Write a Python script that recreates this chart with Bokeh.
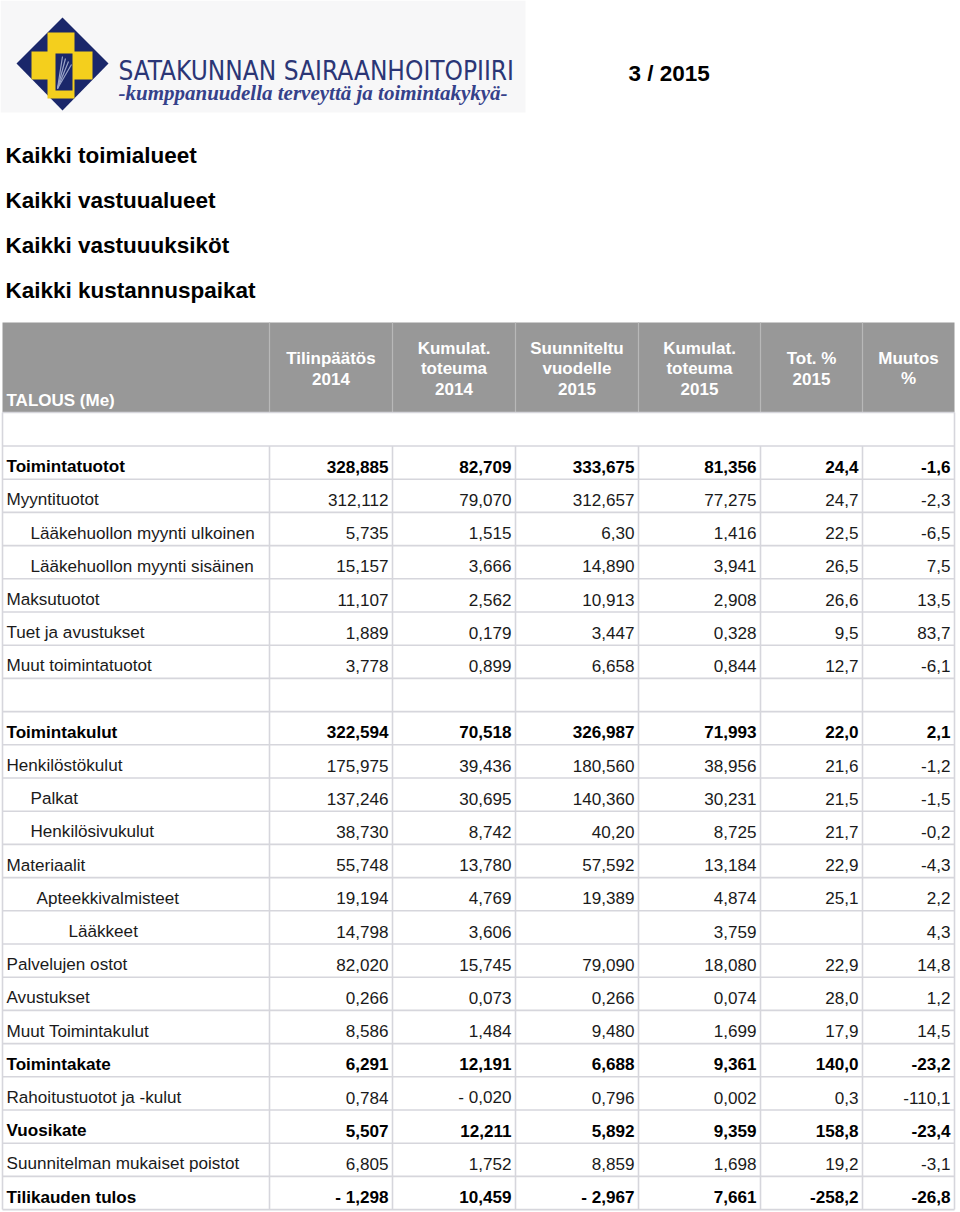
from bokeh.plotting import figure
from bokeh.models import Range1d
from bokeh.core.properties import value
from bokeh.embed import file_html
from bokeh.resources import INLINE

# ---------------- data ----------------
org_name = "SATAKUNNAN SAIRAANHOITOPIIRI"
org_slogan = "-kumppanuudella terveyttä ja toimintakykyä-"
period = "3 / 2015"
filters = ["Kaikki toimialueet", "Kaikki vastuualueet",
           "Kaikki vastuuuksiköt", "Kaikki kustannuspaikat"]
corner_header = "TALOUS (Me)"
col_headers = [["Tilinpäätös", "2014"],
               ["Kumulat.", "toteuma", "2014"],
               ["Suunniteltu", "vuodelle", "2015"],
               ["Kumulat.", "toteuma", "2015"],
               ["Tot. %", "2015"],
               ["Muutos", "%"]]

row_labels = ["Toimintatuotot", "Myyntituotot", "Lääkehuollon myynti ulkoinen",
              "Lääkehuollon myynti sisäinen", "Maksutuotot", "Tuet ja avustukset",
              "Muut toimintatuotot", "", "Toimintakulut", "Henkilöstökulut", "Palkat",
              "Henkilösivukulut", "Materiaalit", "Apteekkivalmisteet", "Lääkkeet",
              "Palvelujen ostot", "Avustukset", "Muut Toimintakulut", "Toimintakate",
              "Rahoitustuotot ja -kulut", "Vuosikate", "Suunnitelman mukaiset poistot",
              "Tilikauden tulos"]

tilinpaatos_2014 = ["328,885", "312,112", "5,735", "15,157", "11,107", "1,889", "3,778", "",
                    "322,594", "175,975", "137,246", "38,730", "55,748", "19,194", "14,798",
                    "82,020", "0,266", "8,586", "6,291", "0,784", "5,507", "6,805", "- 1,298"]
kumulat_2014 = ["82,709", "79,070", "1,515", "3,666", "2,562", "0,179", "0,899", "",
                "70,518", "39,436", "30,695", "8,742", "13,780", "4,769", "3,606",
                "15,745", "0,073", "1,484", "12,191", "- 0,020", "12,211", "1,752", "10,459"]
suunniteltu_2015 = ["333,675", "312,657", "6,30", "14,890", "10,913", "3,447", "6,658", "",
                    "326,987", "180,560", "140,360", "40,20", "57,592", "19,389", "",
                    "79,090", "0,266", "9,480", "6,688", "0,796", "5,892", "8,859", "- 2,967"]
kumulat_2015 = ["81,356", "77,275", "1,416", "3,941", "2,908", "0,328", "0,844", "",
                "71,993", "38,956", "30,231", "8,725", "13,184", "4,874", "3,759",
                "18,080", "0,074", "1,699", "9,361", "0,002", "9,359", "1,698", "7,661"]
tot_pct_2015 = ["24,4", "24,7", "22,5", "26,5", "26,6", "9,5", "12,7", "",
                "22,0", "21,6", "21,5", "21,7", "22,9", "25,1", "",
                "22,9", "28,0", "17,9", "140,0", "0,3", "158,8", "19,2", "-258,2"]
muutos_pct = ["-1,6", "-2,3", "-6,5", "7,5", "13,5", "83,7", "-6,1", "",
              "2,1", "-1,2", "-1,5", "-0,2", "-4,3", "2,2", "4,3",
              "14,8", "1,2", "14,5", "-23,2", "-110,1", "-23,4", "-3,1", "-26,8"]

# ---------------- styling ----------------
bold_rows = {"Toimintatuotot", "Toimintakulut", "Toimintakate", "Vuosikate", "Tilikauden tulos"}
indent = {"Lääkehuollon myynti ulkoinen": 24, "Lääkehuollon myynti sisäinen": 24,
          "Palkat": 24, "Henkilösivukulut": 24, "Apteekkivalmisteet": 30, "Lääkkeet": 62}

FONT = value("Liberation Sans")
BODY = "17.1px"
HEAD = "17px"
col_lines = [2, 269, 392, 515, 638, 760, 862, 954]
table_top = 445.5
row_h = 33.2
header_top, header_bot = 322, 412
GRID = "#d6d6dc"
SHIFT = 0.31  # baseline correction as a fraction of the font size

p = figure(width=960, height=1212, output_backend="svg", toolbar_location=None,
           x_range=Range1d(0, 960), y_range=Range1d(1212, 0),
           min_border=0, outline_line_color=None, background_fill_color="white")
p.axis.visible = False
p.grid.visible = False

# ---------------- logo ----------------
p.quad(left=[0], right=[525], top=[0], bottom=[112], fill_color="#f7f7f8", line_color=None)
p.patch(x=[62, 108, 62, 16], y=[17, 63, 110, 63], fill_color="#1a276a", line_color=None)
p.quad(left=[47, 31], right=[74, 92], top=[32, 51], bottom=[98, 79],
       fill_color="#f4cf1d", line_color=None)
p.quad(left=[55], right=[72], top=[53], bottom=[90], fill_color="#1a276a", line_color=None)
p.multi_line(xs=[[57, 62], [57, 65], [57, 68], [57, 71]],
             ys=[[88, 56], [88, 58], [88, 61], [88, 64]],
             line_color="#9aa4c8", line_width=1.2)
p.text(x=[118], y=[79 - SHIFT * 26], text=[org_name], text_font=value("DejaVu Sans Condensed"),
       text_font_size="26px", text_color="#2b3676", text_baseline="alphabetic")
p.text(x=[118], y=[99 - SHIFT * 21], text=[org_slogan], text_font=value("Liberation Serif"),
       text_font_style="bold italic", text_font_size="21px", text_color="#35418a",
       text_baseline="alphabetic")

# ---------------- titles ----------------
p.text(x=[628], y=[80 - SHIFT * 22.5], text=[period], text_font=FONT, text_font_style="bold",
       text_font_size="22.5px", text_color="#000000", text_baseline="alphabetic")
p.text(x=[5] * len(filters), y=[162 - SHIFT * 22.5 + 45 * i for i in range(len(filters))],
       text=filters, text_font=FONT, text_font_style="bold", text_font_size="22.5px",
       text_color="#000000", text_baseline="alphabetic")

# ---------------- header ----------------
p.quad(left=[col_lines[0]], right=[col_lines[-1]], top=[header_top], bottom=[header_bot],
       fill_color="#989898", line_color=None)
p.segment(x0=col_lines[1:-1], y0=[header_top] * 6, x1=col_lines[1:-1], y1=[header_bot] * 6,
          line_color="#b8b8b8", line_width=1.2)

# ---------------- grid ----------------
n_rows = len(row_labels)
table_bot = table_top + n_rows * row_h
hys = [header_bot, table_top] + [table_top + (i + 1) * row_h for i in range(n_rows)]
p.segment(x0=[col_lines[0]] * len(hys), y0=hys, x1=[col_lines[-1]] * len(hys), y1=hys,
          line_color=GRID, line_width=1.6)
p.segment(x0=col_lines, y0=[table_top] * len(col_lines), x1=col_lines,
          y1=[table_bot] * len(col_lines), line_color=GRID, line_width=1.6)
p.segment(x0=[col_lines[0], col_lines[-1]], y0=[header_bot] * 2,
          x1=[col_lines[0], col_lines[-1]], y1=[table_top] * 2,
          line_color=GRID, line_width=1.6)

# header texts
p.text(x=[6], y=[405 - SHIFT * 17], text=[corner_header], text_font=FONT, text_font_style="bold",
       text_font_size=HEAD, text_color="white", text_baseline="alphabetic")
hx, hy, ht = [], [], []
for c, lines in enumerate(col_headers):
    cx = (col_lines[c + 1] + col_lines[c + 2]) / 2
    n = len(lines)
    for k, t in enumerate(lines):
        hx.append(cx)
        hy.append(373.5 - SHIFT * 17 + (k - (n - 1) / 2) * 20.5)
        ht.append(t)
p.text(x=hx, y=hy, text=ht, text_font=FONT, text_font_style="bold", text_font_size=HEAD,
       text_color="white", text_align="center", text_baseline="alphabetic")

# ---------------- body text ----------------
columns = [tilinpaatos_2014, kumulat_2014, suunniteltu_2015, kumulat_2015, tot_pct_2015, muutos_pct]
groups = {"bold": ([], [], [], []), "normal": ([], [], [], [])}
for i, lab in enumerate(row_labels):
    if not lab:
        continue
    g = groups["bold" if lab in bold_rows else "normal"]
    base = table_top + i * row_h + 26 - SHIFT * 17
    g[0].append(6 + indent.get(lab, 0)); g[1].append(base); g[2].append(lab); g[3].append("left")
    for c, col in enumerate(columns):
        if col[i]:
            g[0].append(col_lines[c + 2] - 4); g[1].append(base); g[2].append(col[i]); g[3].append("right")

for style, (xs, ys, ts, al) in groups.items():
    for a in ("left", "right"):
        idx = [k for k in range(len(xs)) if al[k] == a]
        p.text(x=[xs[k] for k in idx], y=[ys[k] for k in idx], text=[ts[k] for k in idx],
               text_font=FONT, text_font_style=style, text_font_size=BODY,
               text_color="#000000" if style == "bold" else "#1a1a1a",
               text_align=a, text_baseline="alphabetic")

open("out.html", "w").write(file_html(p, INLINE))
